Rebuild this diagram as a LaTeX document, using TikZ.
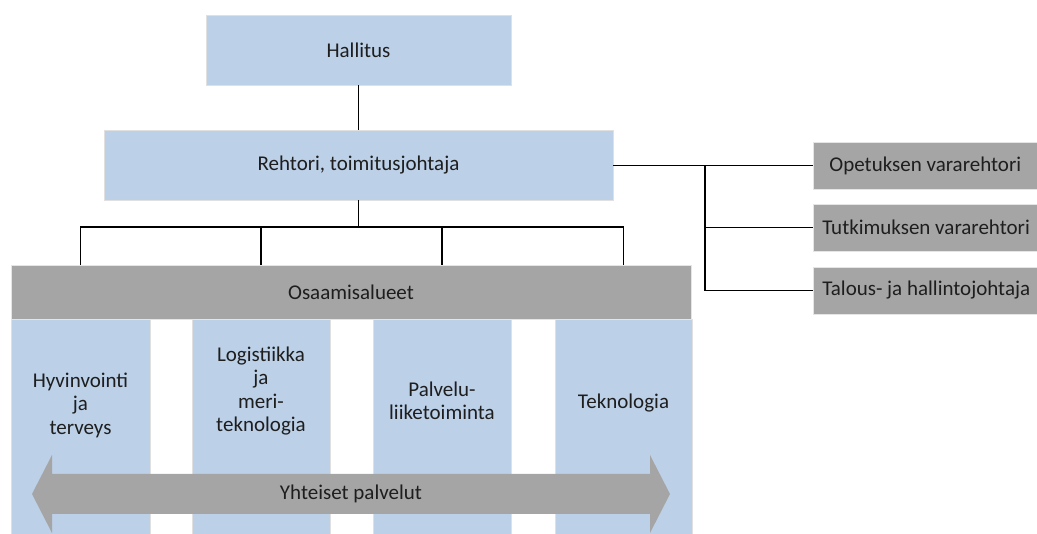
\documentclass[tikz,border=0pt]{standalone}
\usepackage{fontspec}
\setmainfont{Carlito}
\definecolor{boxblue}{HTML}{BCD0E8}
\definecolor{boxgray}{HTML}{A5A5A5}
\definecolor{txt}{HTML}{1E1E1E}
\begin{document}
\begin{tikzpicture}[x=1pt,y=-1pt,
  every node/.style={font=\fontsize{21}{23.5}\selectfont, text=txt},
  bluebox/.style={fill=boxblue, draw=black!12, line width=0.6pt, inner sep=0pt},
  graybox/.style={fill=boxgray, draw=black!10, line width=0.6pt, inner sep=0pt},
  sidebox/.style={graybox, anchor=west, minimum width=224, minimum height=47, inner xsep=9pt},
  conn/.style={draw=black, line width=1.3pt},
  lbl/.style={align=center, inner sep=0pt}]
\useasboundingbox (0,0) rectangle (1037,534);
% top boxes
\node[bluebox, minimum width=305, minimum height=70] (hal) at (358.5,50) {Hallitus};
\node[bluebox, minimum width=509, minimum height=70] (reh) at (358.5,165) {Rehtori, toimitusjohtaja};
% side boxes
\node[sidebox] (ope) at (813,165.5) {Opetuksen vararehtori};
\node[sidebox] (tut) at (813,227.5) {Tutkimuksen vararehtori};
\node[sidebox] (tal) at (813,290.5) {Talous- ja hallintojohtaja};
% columns
\node[bluebox, minimum width=139, minimum height=215] (c1) at (80.5,426.5) {};
\node[bluebox, minimum width=138, minimum height=215] (c2) at (261,426.5) {};
\node[bluebox, minimum width=138, minimum height=215] (c3) at (442,426.5) {};
\node[bluebox, minimum width=137, minimum height=215] (c4) at (623.5,426.5) {};
% osaamisalueet bar
\node[graybox, minimum width=680, minimum height=54] (osa) at (351,292) {Osaamisalueet};
% column labels
\node[lbl] (t1) at (c1 |- 0,405) {Hyvinvointi\\ja\\terveys};
\node[lbl] (t2) at (c2 |- 0,391) {Logistiikka\\ja\\meri-\\teknologia};
\node[lbl] (t3) at (c3 |- 0,401) {Palvelu-\\liiketoiminta};
\node[lbl] (t4) at (c4 |- 0,403) {Teknologia};
% double arrow
\fill[boxgray] (32,494) -- (52,455) -- (52,474) -- (650,474) -- (650,455) -- (670,494)
  -- (650,533) -- (650,514) -- (52,514) -- (52,533) -- cycle;
\node[inner sep=0pt] (yht) at (351,494) {Yhteiset palvelut};
% connectors
\draw[conn] (hal.south) -- (reh.north);
\coordinate (bus) at (358.5,227);
\draw[conn] (reh.south) -- (bus);
\draw[conn] (c1 |- osa.north) -- (c1 |- bus) -- (c4 |- bus) -- (c4 |- osa.north);
\draw[conn] (c2 |- bus) -- (c2 |- osa.north);
\draw[conn] (c3 |- bus) -- (c3 |- osa.north);
\coordinate (br) at (705,165.5);
\draw[conn] (reh.east |- br) -- (ope.west);
\draw[conn] (br) -- (br |- tal.west) -- (tal.west);
\draw[conn] (br |- tut.west) -- (tut.west);
\end{tikzpicture}
\end{document}
